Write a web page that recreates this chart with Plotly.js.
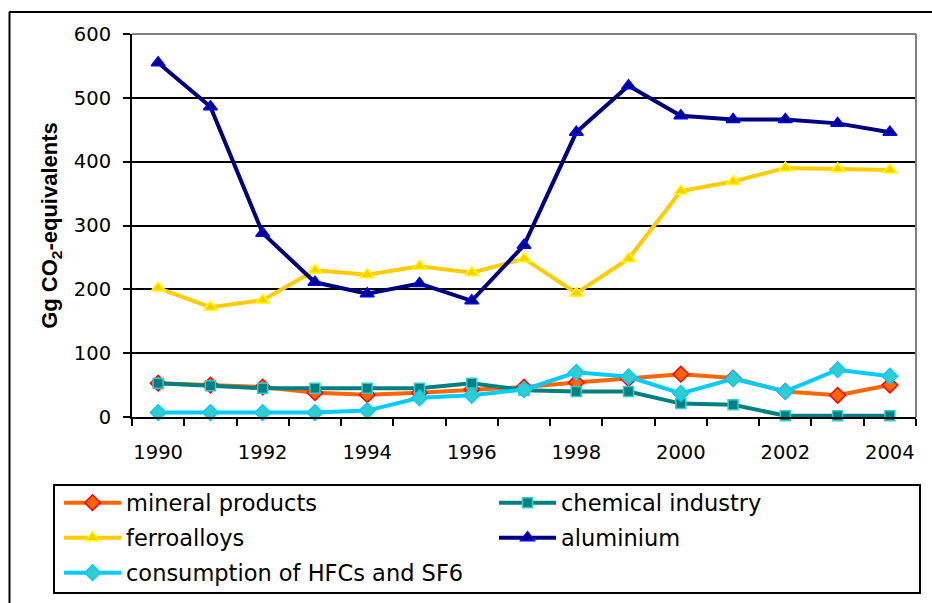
<!DOCTYPE html>
<html>
<head>
<meta charset="utf-8">
<script src="https://cdn.plot.ly/plotly-3.0.1.min.js"></script>
<style>html,body{margin:0;padding:0;background:#fff;}#chart{width:932px;height:603px;}</style>
</head>
<body>
<div id="chart"></div>
<script>
const years = [1990,1991,1992,1993,1994,1995,1996,1997,1998,1999,2000,2001,2002,2003,2004];
const yearLabels = ["1990","1992","1994","1996","1998","2000","2002","2004"];
const labelYears = [1990,1992,1994,1996,1998,2000,2002,2004];
const yTicks = [0,100,200,300,400,500,600];

const mineralProducts = [53,50,47,38,35,38,43,47,54,60,67,61,40,34,50];
const chemicalIndustry = [53,49,45,45,45,45,53,42,40,40,21,19,2,2,2];
const ferroalloys = [202,172,183,230,223,236,226,248,194,248,354,369,390,389,387];
const aluminium = [555,486,288,211,193,209,182,269,446,519,472,466,466,460,446];
const consumptionHFC = [7,7,7,7,10,30,34,43,70,63,37,60,40,74,64];

const seriesNames = ["mineral products","chemical industry","ferroalloys","aluminium","consumption of HFCs and SF6"];

// pixel helpers for layout placement (plot area: x 132..916, y 34..417)
const L = 132, R = 916, T = 34, B = 417;
const xp = px => (px - L) / (R - L);
const yp = py => (B - py) / (B - T);

function tr(name, y, lineColor, sym, fill, outline, size, legendId) {
  return {
    type: 'scatter', mode: 'lines+markers', name: name, x: years, y: y,
    line: {color: lineColor, width: 4},
    marker: {symbol: sym, color: fill, size: size, line: {color: outline, width: 1.5}},
    legend: legendId, cliponaxis: false
  };
}

const data = [
  tr(seriesNames[0], mineralProducts, '#FF6600', 'diamond', '#FF6600', '#FF0000', 12, 'legend'),
  tr(seriesNames[1], chemicalIndustry, '#008080', 'square', '#008080', '#33CCCC', 10, 'legend2'),
  tr(seriesNames[2], ferroalloys, '#FFCC00', 'triangle-up', '#FFCC00', '#FFFF00', 12, 'legend3'),
  tr(seriesNames[3], aluminium, '#000080', 'triangle-up', '#000080', '#0000FF', 12, 'legend4'),
  tr(seriesNames[4], consumptionHFC, '#00CCFF', 'diamond', '#33CCCC', '#00CCFF', 12, 'legend5')
];

const boundaries = years.map(v => v - 0.5).concat([years[years.length-1] + 0.5]);

const legFont = {family: 'DejaVu Sans', size: 22.5, color: '#000'};
function leg(px, py) {
  return {x: xp(px), y: yp(py), xanchor: 'left', yanchor: 'middle', orientation: 'v',
          bgcolor: 'rgba(0,0,0,0)', borderwidth: 0, font: legFont, itemwidth: 57};
}

const layout = {
  width: 932, height: 603,
  margin: {l: L, r: 932 - R, t: T, b: 603 - B, autoexpand: false},
  paper_bgcolor: '#fff', plot_bgcolor: '#fff',
  showlegend: true,
  legend: leg(59, 503),
  legend2: leg(494, 503),
  legend3: leg(59, 538),
  legend4: leg(494, 538),
  legend5: leg(59, 573),
  xaxis: {
    type: 'linear', range: [years[0] - 0.5, years[years.length-1] + 0.5],
    tickmode: 'array', tickvals: labelYears, ticktext: yearLabels,
    ticks: '', showgrid: false, zeroline: false,
    showline: true, linecolor: '#000', linewidth: 2,
    tickfont: {family: 'DejaVu Sans', size: 19.5, color: '#000'},
    ticklabelstandoff: 17,
    minor: {tickmode: 'array', tickvals: boundaries, ticks: 'outside', ticklen: 7, tickwidth: 2, tickcolor: '#000', showgrid: false}
  },
  yaxis: {
    range: [0, 600], tickmode: 'array', tickvals: yTicks,
    ticks: 'outside', ticklen: 7, tickwidth: 2, tickcolor: '#000',
    showgrid: true, gridcolor: '#000', gridwidth: 2, zeroline: false,
    showline: true, linecolor: '#000', linewidth: 2,
    tickfont: {family: 'DejaVu Sans', size: 19.5, color: '#000'},
    ticklabelstandoff: 8,
    title: {text: 'Gg CO<sub>2</sub>-equivalents', font: {family: 'Liberation Sans, Arial', size: 22, color: '#000', weight: 'bold'}, standoff: 10}
  },
  shapes: [
    // plot area border (top & right, gray)
    {type: 'line', xref: 'paper', yref: 'paper', x0: 0, x1: 1, y0: 1, y1: 1, line: {color: '#808080', width: 2}, layer: 'above'},
    {type: 'line', xref: 'paper', yref: 'paper', x0: 1, x1: 1, y0: 0, y1: 1, line: {color: '#808080', width: 2}, layer: 'above'},
    // legend box
    {type: 'rect', xref: 'paper', yref: 'paper', x0: xp(54), x1: xp(920), y0: yp(593), y1: yp(485), line: {color: '#000', width: 2}, fillcolor: 'rgba(0,0,0,0)', layer: 'above'},
    // outer chart border (left & top)
    {type: 'line', xref: 'paper', yref: 'paper', x0: xp(9.5), x1: xp(9.5), y0: yp(12), y1: yp(620), line: {color: '#000', width: 2}, layer: 'above'},
    {type: 'line', xref: 'paper', yref: 'paper', x0: xp(9), x1: xp(950), y0: yp(12), y1: yp(12), line: {color: '#000', width: 2}, layer: 'above'}
  ]
};

Plotly.newPlot('chart', data, layout, {displayModeBar: false, staticPlot: true});
</script>
</body>
</html>
